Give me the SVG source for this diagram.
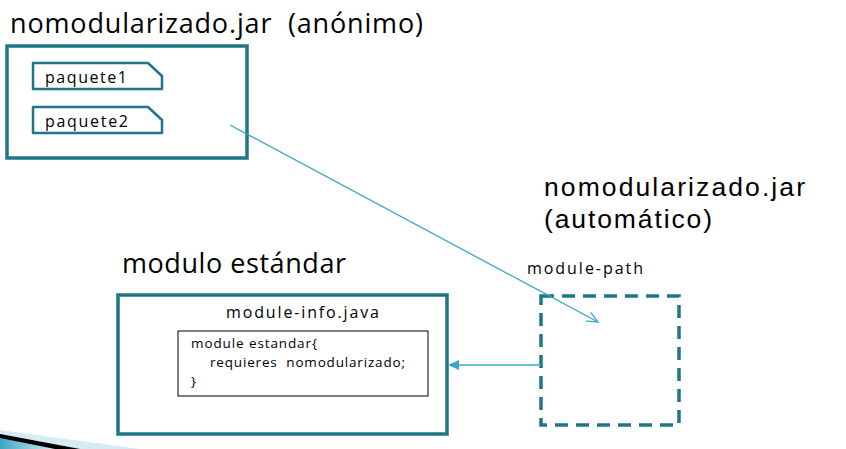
<svg xmlns="http://www.w3.org/2000/svg" width="846" height="449" viewBox="0 0 846 449">
<style>
.t{font-family:"Open Sans","DejaVu Sans",sans-serif;fill:#000}
.t2{font-family:"Liberation Sans","Open Sans",sans-serif;fill:#000;font-size:26.5px}
.big{font-size:27px}
.mid{font-size:16px}
.sm{font-size:13.5px}
.box{fill:none;stroke:#1f7688;stroke-width:3.5}
.pk{fill:#fff;stroke:#1f7688;stroke-width:2.5;stroke-linejoin:round}
.con{fill:none;stroke:#3aa7c6;stroke-width:1.3}
</style>
<defs>
<marker id="open" markerWidth="14" markerHeight="12" refX="12" refY="6" orient="auto" markerUnits="userSpaceOnUse">
<path d="M1,1 L12,6 L1,11" fill="none" stroke="#3aa7c6" stroke-width="1.3"/>
</marker>
<marker id="fill" markerWidth="12" markerHeight="10" refX="1" refY="5" orient="auto-start-reverse" markerUnits="userSpaceOnUse">
<path d="M0,0 L11,5 L0,10 Z" fill="#3aa7c6"/>
</marker>
<linearGradient id="sw" x1="0" y1="0" x2="1" y2="0">
<stop offset="0" stop-color="#3aa7c6"/>
<stop offset="1" stop-color="#d8edf3"/>
</linearGradient>
</defs>
<rect width="846" height="449" fill="#fff"/>
<g id="decor">
<path d="M0,430 L140,449 L0,449 Z" fill="#d6ebf2"/>
<path d="M0,434 L80,449 L0,449 Z" fill="#000"/>
<path d="M0,438 L55,449 L0,449 Z" fill="url(#sw)"/>
</g>
<g id="anonimo">
<text class="t big" x="10" y="33" xml:space="preserve" textLength="413">nomodularizado.jar  (anónimo)</text>
<rect class="box" x="7" y="46" width="240" height="112"/>
<g id="paquete1">
<path class="pk" d="M33,63 L148,63 L162,76 L162,89 L33,89 Z"/>
<text class="t mid" x="45" y="83" textLength="82">paquete1</text>
</g>
<g id="paquete2">
<path class="pk" d="M33,107 L148,107 L162,120 L162,133 L33,133 Z"/>
<text class="t mid" x="45" y="127" textLength="83">paquete2</text>
</g>
</g>
<g id="automatico">
<text class="t2" x="544" y="196" textLength="261">nomodularizado.jar</text>
<text class="t2" x="544" y="228" textLength="168">(automático)</text>
<text class="t mid" x="527" y="274" textLength="116">module-path</text>
<rect x="541" y="296" width="138" height="129" fill="none" stroke="#1f7688" stroke-width="3.5" stroke-dasharray="13,8"/>
</g>
<g id="estandar">
<text class="t big" x="122" y="273" textLength="224">modulo estándar</text>
<rect class="box" x="118" y="295" width="329" height="139"/>
<text class="t mid" x="226" y="318" textLength="153">module-info.java</text>
<rect x="178" y="331" width="250" height="65" fill="#fff" stroke="#000" stroke-width="1"/>
<text class="t sm" x="191" y="348" textLength="126">module estandar{</text>
<text class="t sm" x="210" y="367" xml:space="preserve" textLength="195">requieres  nomodularizado;</text>
<text class="t sm" x="191" y="386">}</text>
</g>
<g id="connectors">
<line class="con" x1="230" y1="125" x2="598" y2="322" marker-end="url(#open)"/>
<line class="con" x1="541" y1="365" x2="458" y2="365" marker-end="url(#fill)"/>
</g>
</svg>
